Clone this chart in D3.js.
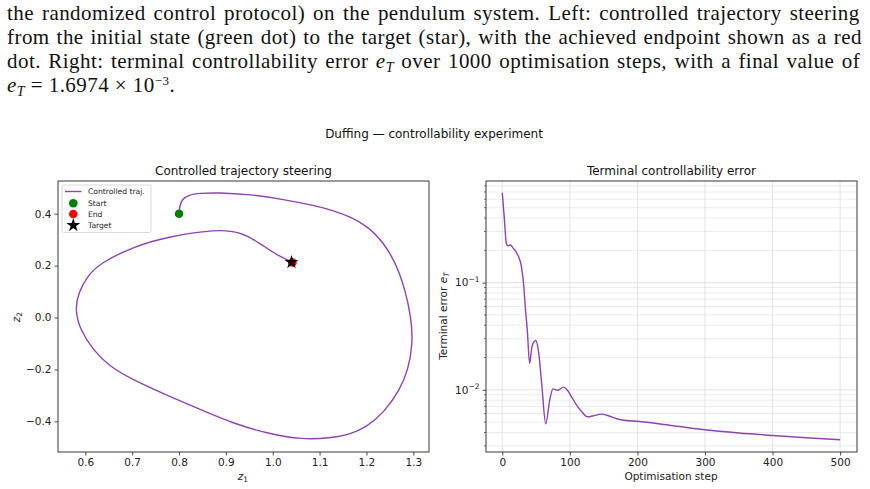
<!DOCTYPE html>
<html>
<head>
<meta charset="utf-8">
<script src="https://cdn.jsdelivr.net/npm/d3@7"></script>
<style>
  body { margin: 0; background: #fff; }
  svg { display: block; }
</style>
</head>
<body>
<svg id="fig" width="870" height="489"></svg>
<script>
// trajectory (z1, z2)
var trajZ1 = [0.800, 0.801, 0.806, 0.820, 0.845, 0.880, 0.9515, 1.0225, 1.0938, 1.129, 1.165, 1.2005, 1.236, 1.2716, 1.2965, 1.2987, 1.289, 1.2716, 1.236, 1.2005, 1.165, 1.129, 1.062, 0.987, 0.916, 0.845, 0.774, 0.7025, 0.6527, 0.617, 0.5887, 0.578, 0.585, 0.603, 0.631, 0.7025, 0.774, 0.880, 0.930, 0.973, 1.008, 1.040];
var trajZ2 = [0.400, 0.425, 0.455, 0.472, 0.479, 0.481, 0.4746, 0.4553, 0.4297, 0.4117, 0.3886, 0.3539, 0.2922, 0.183, 0.003, -0.105, -0.201, -0.278, -0.369, -0.421, -0.450, -0.463, -0.471, -0.446, -0.408, -0.354, -0.299, -0.241, -0.190, -0.126, -0.047, 0.030, 0.093, 0.157, 0.209, 0.273, 0.311, 0.340, 0.331, 0.286, 0.241, 0.215];
var startPt = [0.800, 0.400];
var endPt = [1.042, 0.212];
var targetPt = [1.040, 0.213];

// terminal error per optimisation step
var errStep = [0, 3, 6, 8, 12, 16, 20, 24, 28, 31.5, 34, 37, 40.5, 44, 49.4, 53.3, 58.3, 64.3, 70.3, 75, 82, 90.7, 97, 103, 110, 118, 126, 134, 147, 158, 168, 180, 200, 250, 300, 350, 400, 450, 500];
var errValue = [0.69, 0.40, 0.233, 0.220, 0.224, 0.210, 0.195, 0.175, 0.145, 0.098, 0.060, 0.036, 0.0177, 0.0254, 0.0288, 0.0236, 0.0115, 0.00482, 0.00807, 0.0102, 0.0099, 0.0106, 0.0098, 0.0085, 0.0072, 0.0062, 0.0056, 0.0057, 0.00593, 0.0057, 0.0054, 0.0052, 0.00509, 0.00465, 0.00424, 0.00396, 0.00375, 0.00357, 0.00342];

var z1Ticks = [0.6, 0.7, 0.8, 0.9, 1.0, 1.1, 1.2, 1.3];
var z2Ticks = [-0.4, -0.2, 0.0, 0.2, 0.4];
var stepTicks = [0, 100, 200, 300, 400, 500];
var errTicks = [0.1, 0.01];

var purple = "#8e44ad";
var sans = "DejaVu Sans, sans-serif";
var svg = d3.select("#fig");

// ---- caption text above the figure ----
var serif = "Liberation Serif, serif";
var cap = svg.append("g").attr("font-family", serif).attr("font-size", 21).attr("fill", "#111")
  .attr("letter-spacing", 0.45);

function addLine(y, parts, justify) {
  var t = cap.append("text").attr("x", 7).attr("y", y);
  parts.forEach(function(p) {
    var s = t.append("tspan").text(p.t);
    if (p.i) s.attr("font-style", "italic");
    if (p.sub) s.attr("font-size", 14).attr("dy", 4);
    if (p.back) s.attr("dy", -4);
    if (p.sup) s.attr("font-size", 13).attr("dy", -7);
    if (p.unsup) s.attr("dy", 7);
  });
  if (justify) {
    var w = t.node().getComputedTextLength();
    var spaces = t.text().split(" ").length - 1;
    t.attr("word-spacing", (855 - w) / spaces);
  }
}
addLine(20, [{t: "the randomized control protocol) on the pendulum system.  Left: controlled trajectory steering"}], true);
addLine(44, [{t: "from the initial state (green dot) to the target (star), with the achieved endpoint shown as a red"}], true);
addLine(68, [{t: "dot.  Right: terminal controllability error "}, {t: "e", i: 1}, {t: "T", i: 1, sub: 1}, {t: " over 1000 optimisation steps, with a final value of", back: 1}], true);
addLine(92, [{t: "e", i: 1}, {t: "T", i: 1, sub: 1}, {t: " = 1.6974 \u00d7 10", back: 1}, {t: "\u22123", sup: 1}, {t: ".", unsup: 1}], false);

// ---- suptitle ----
svg.append("text").attr("x", 434).attr("y", 138).attr("text-anchor", "middle")
  .attr("font-family", sans).attr("font-size", 12).attr("fill", "#111")
  .text("Duffing \u2014 controllability experiment");

// ---- left panel ----
var L = {x0: 58, x1: 429, y0: 181, y1: 452};
var xL = d3.scaleLinear().domain([0.5417, 1.3335]).range([L.x0, L.x1]);
var yL = d3.scaleLinear().domain([-0.518, 0.526]).range([L.y1, L.y0]);

var gl = svg.append("g");
gl.append("g").attr("transform", "translate(0," + L.y1 + ")")
  .call(d3.axisBottom(xL).tickValues(z1Ticks).tickFormat(d3.format(".1f")).tickSize(3.5).tickPadding(3));
gl.append("g").attr("transform", "translate(" + L.x0 + ",0)")
  .call(d3.axisLeft(yL).tickValues(z2Ticks).tickFormat(d3.format(".1f")).tickSize(3.5).tickPadding(3));

var trajPts = trajZ1.map(function(v, i) { return [v, trajZ2[i]]; });
gl.append("path").datum(trajPts)
  .attr("d", d3.line().x(function(d) { return xL(d[0]); }).y(function(d) { return yL(d[1]); }).curve(d3.curveBasis))
  .attr("fill", "none").attr("stroke", purple).attr("stroke-width", 1.4);

gl.append("circle").attr("cx", xL(startPt[0])).attr("cy", yL(startPt[1])).attr("r", 4.3).attr("fill", "green");
gl.append("circle").attr("cx", xL(endPt[0])).attr("cy", yL(endPt[1])).attr("r", 4.3).attr("fill", "red");
gl.append("path").attr("d", d3.symbol(d3.symbolStar, 60)())
  .attr("transform", "translate(" + xL(targetPt[0]) + "," + yL(targetPt[1]) + ")").attr("fill", "black");

gl.append("rect").attr("x", L.x0).attr("y", L.y0).attr("width", L.x1 - L.x0).attr("height", L.y1 - L.y0)
  .attr("fill", "none").attr("stroke", "#222").attr("stroke-width", 0.9);

// legend
var lg = gl.append("g").attr("font-family", sans).attr("font-size", 7.6).attr("fill", "#222");
lg.append("rect").attr("x", 62).attr("y", 185).attr("width", 89).attr("height", 47.5).attr("rx", 2)
  .attr("fill", "white").attr("fill-opacity", 0.8).attr("stroke", "#d0d0d0").attr("stroke-width", 0.8);
lg.append("line").attr("x1", 65).attr("x2", 81.5).attr("y1", 191.5).attr("y2", 191.5).attr("stroke", purple).attr("stroke-width", 1.4);
lg.append("circle").attr("cx", 73.3).attr("cy", 203.3).attr("r", 4.3).attr("fill", "green");
lg.append("circle").attr("cx", 73.3).attr("cy", 214).attr("r", 4.3).attr("fill", "red");
lg.append("path").attr("d", d3.symbol(d3.symbolStar, 60)()).attr("transform", "translate(73.3,225.3)").attr("fill", "black");
["Controlled traj.", "Start", "End", "Target"].forEach(function(s, i) {
  lg.append("text").attr("x", 88).attr("y", 194.3 + i * 11.2).text(s);
});

gl.append("text").attr("x", (L.x0 + L.x1) / 2).attr("y", 175).attr("text-anchor", "middle")
  .attr("font-family", sans).attr("font-size", 12).attr("fill", "#111").text("Controlled trajectory steering");
var zx = gl.append("text").attr("x", 243).attr("y", 480).attr("text-anchor", "middle")
  .attr("font-family", sans).attr("font-size", 10.5).attr("fill", "#222");
zx.append("tspan").attr("font-style", "italic").text("z");
zx.append("tspan").attr("font-size", 7.5).attr("dy", 2).text("1");
var zy = gl.append("text").attr("transform", "translate(20,317) rotate(-90)").attr("text-anchor", "middle")
  .attr("font-family", sans).attr("font-size", 10.5).attr("fill", "#222");
zy.append("tspan").attr("font-style", "italic").text("z");
zy.append("tspan").attr("font-size", 7.5).attr("dy", 2).text("2");

// ---- right panel ----
var R = {x0: 486, x1: 857, y0: 181, y1: 452};
var xR = d3.scaleLinear().domain([-24.1, 525]).range([R.x0, R.x1]);
var yR = d3.scaleLog().domain([0.00263, 0.887]).range([R.y1, R.y0]);

var gr = svg.append("g");
var minor = [];
[0.001, 0.01, 0.1].forEach(function(dec) {
  for (var k = 2; k <= 9; k++) {
    var v = dec * k;
    if (v > yR.domain()[0] && v < yR.domain()[1]) minor.push(v);
  }
});
gr.selectAll(".mg").data(minor).enter().append("line")
  .attr("x1", R.x0).attr("x2", R.x1).attr("y1", yR).attr("y2", yR)
  .attr("stroke", "#e4e4e4").attr("stroke-width", 0.7);
gr.selectAll(".hg").data(errTicks).enter().append("line")
  .attr("x1", R.x0).attr("x2", R.x1).attr("y1", yR).attr("y2", yR)
  .attr("stroke", "#dcdcdc").attr("stroke-width", 0.8);
gr.selectAll(".vg").data(stepTicks).enter().append("line")
  .attr("x1", xR).attr("x2", xR).attr("y1", R.y0).attr("y2", R.y1)
  .attr("stroke", "#dcdcdc").attr("stroke-width", 0.8);

gr.append("g").attr("transform", "translate(0," + R.y1 + ")")
  .call(d3.axisBottom(xR).tickValues(stepTicks).tickFormat(d3.format("d")).tickSize(3.5).tickPadding(3));
var ya = gr.append("g").attr("transform", "translate(" + R.x0 + ",0)")
  .call(d3.axisLeft(yR).tickValues(errTicks).tickFormat("").tickSize(3.5).tickPadding(3));
ya.selectAll(".tick text").each(function(d) {
  var t = d3.select(this).text(null);
  t.append("tspan").text("10");
  t.append("tspan").attr("font-size", 7.5).attr("dy", -4.5).text("\u2212" + Math.round(-Math.log10(d)));
});
gr.selectAll(".mt").data(minor).enter().append("line")
  .attr("x1", R.x0 - 2).attr("x2", R.x0).attr("y1", yR).attr("y2", yR)
  .attr("stroke", "#222").attr("stroke-width", 0.6);

var errPts = errStep.map(function(s, i) { return [s, errValue[i]]; });
gr.append("path").datum(errPts)
  .attr("d", d3.line().x(function(d) { return xR(d[0]); }).y(function(d) { return yR(d[1]); }).curve(d3.curveMonotoneX))
  .attr("fill", "none").attr("stroke", purple).attr("stroke-width", 1.4);

gr.append("rect").attr("x", R.x0).attr("y", R.y0).attr("width", R.x1 - R.x0).attr("height", R.y1 - R.y0)
  .attr("fill", "none").attr("stroke", "#222").attr("stroke-width", 0.9);

gr.append("text").attr("x", (R.x0 + R.x1) / 2).attr("y", 175).attr("text-anchor", "middle")
  .attr("font-family", sans).attr("font-size", 12).attr("fill", "#111").text("Terminal controllability error");
gr.append("text").attr("x", 671).attr("y", 480).attr("text-anchor", "middle")
  .attr("font-family", sans).attr("font-size", 10.5).attr("fill", "#222").text("Optimisation step");
var ey = gr.append("text").attr("transform", "translate(447,316) rotate(-90)").attr("text-anchor", "middle")
  .attr("font-family", sans).attr("font-size", 10.5).attr("fill", "#222");
ey.append("tspan").text("Terminal error  ");
ey.append("tspan").attr("font-style", "italic").text("e");
ey.append("tspan").attr("font-size", 7.5).attr("dy", 2).attr("font-style", "italic").text("T");

// common axis styling
svg.selectAll(".domain").remove();
svg.selectAll(".tick line").attr("stroke", "#222").attr("stroke-width", 0.8);
svg.selectAll(".tick text").attr("font-family", sans).attr("font-size", 10.5).attr("fill", "#222");
</script>
</body>
</html>
